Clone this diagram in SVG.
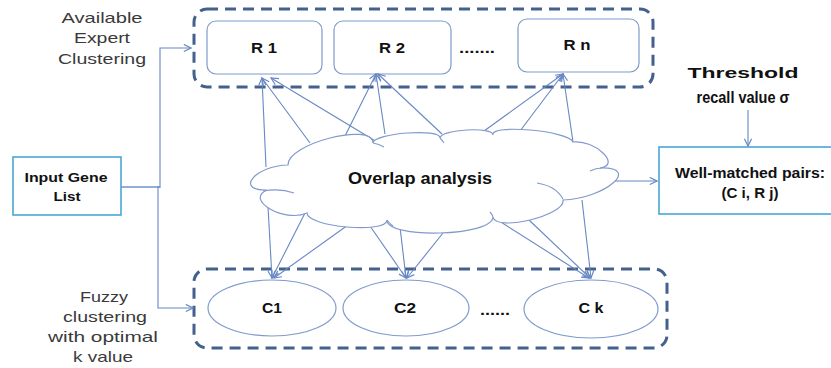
<svg xmlns="http://www.w3.org/2000/svg" width="831" height="368" viewBox="0 0 831 368">
<defs>
<style>
.lbl{font-family:"Liberation Sans",Arial,sans-serif;font-size:15px;fill:#3a3a3a;text-anchor:middle}
.b{font-family:"Liberation Sans",Arial,sans-serif;font-weight:bold;fill:#111;text-anchor:middle}
.grp{fill:none;stroke:#43618c;stroke-width:3;stroke-dasharray:11 7}
.rbox{fill:#fff;stroke:#7f9bcc;stroke-width:1.2}
.ell{fill:#fff;stroke:#7f9bcc;stroke-width:1.2}
.cbox{fill:#fff;stroke:#4aa6d8;stroke-width:1.6}
.cloud{fill:#fff;stroke:#8299cb;stroke-width:1.2}
.cl{fill:none;stroke:#8299cb;stroke-width:1.1}
.ar{fill:none;stroke:#6688c4;stroke-width:1.1;marker-end:url(#ah)}
.ln{fill:none;stroke:#6f94cc;stroke-width:1.3}
</style>
<marker id="ah" viewBox="0 0 10 10" refX="9" refY="5" markerWidth="9" markerHeight="9" markerUnits="userSpaceOnUse" orient="auto">
<path d="M1,1 L9,5 L1,9" fill="none" stroke="#6688c4" stroke-width="1.3"/>
</marker>
</defs>
<rect width="831" height="368" fill="#fff"/>

<g id="labels">
<text class="lbl" x="102" y="23" textLength="81" lengthAdjust="spacingAndGlyphs">Available</text>
<text class="lbl" x="102" y="43" textLength="56" lengthAdjust="spacingAndGlyphs">Expert</text>
<text class="lbl" x="102" y="64" textLength="88" lengthAdjust="spacingAndGlyphs">Clustering</text>
<text class="lbl" x="104" y="302" textLength="48" lengthAdjust="spacingAndGlyphs">Fuzzy</text>
<text class="lbl" x="105" y="322" textLength="84" lengthAdjust="spacingAndGlyphs">clustering</text>
<text class="lbl" x="103" y="342" textLength="110" lengthAdjust="spacingAndGlyphs">with optimal</text>
<text class="lbl" x="103" y="362" textLength="60" lengthAdjust="spacingAndGlyphs">k value</text>
<text class="b" x="743" y="78" font-size="15" textLength="111" lengthAdjust="spacingAndGlyphs">Threshold</text>
<text class="b" x="743" y="103" font-size="17" textLength="93" lengthAdjust="spacingAndGlyphs">recall value σ</text>
</g>

<g id="expert-group">
<rect class="grp" x="194" y="9" width="459" height="78" rx="13"/>
<text class="b" x="477" y="53" font-size="14" textLength="36" lengthAdjust="spacingAndGlyphs">.......</text>
</g>
<g id="R1"><rect class="rbox" x="207" y="21" width="115" height="53" rx="9"/><text class="b" x="264" y="53" font-size="14" textLength="26" lengthAdjust="spacingAndGlyphs">R 1</text></g>
<g id="R2"><rect class="rbox" x="334" y="21" width="117" height="53" rx="9"/><text class="b" x="392" y="53" font-size="14" textLength="26" lengthAdjust="spacingAndGlyphs">R 2</text></g>
<g id="Rn"><rect class="rbox" x="518" y="19" width="121" height="53" rx="9"/><text class="b" x="577" y="50" font-size="14" textLength="27" lengthAdjust="spacingAndGlyphs">R n</text></g>

<g id="fuzzy-group">
<rect class="grp" x="194" y="269" width="473" height="79" rx="13"/>
<text class="b" x="495" y="315" font-size="14" textLength="30" lengthAdjust="spacingAndGlyphs">......</text>
</g>
<g id="C1"><ellipse class="ell" cx="272" cy="308" rx="64" ry="28"/><text class="b" x="272" y="313" font-size="15" textLength="20" lengthAdjust="spacingAndGlyphs">C1</text></g>
<g id="C2"><ellipse class="ell" cx="406" cy="308" rx="63" ry="28"/><text class="b" x="405" y="313" font-size="15" textLength="22" lengthAdjust="spacingAndGlyphs">C2</text></g>
<g id="Ck"><ellipse class="ell" cx="591" cy="309" rx="67" ry="29"/><text class="b" x="591" y="313" font-size="15" textLength="25" lengthAdjust="spacingAndGlyphs">C k</text></g>

<g id="input">
<rect class="cbox" x="13" y="157" width="108" height="58"/>
<text class="b" x="66" y="182" font-size="13" textLength="83" lengthAdjust="spacingAndGlyphs">Input Gene</text>
<text class="b" x="67" y="201" font-size="13" textLength="27" lengthAdjust="spacingAndGlyphs">List</text>
</g>

<g id="wellmatched">
<rect class="cbox" x="659" y="147" width="180" height="67"/>
<text class="b" x="750" y="178" font-size="14" textLength="150" lengthAdjust="spacingAndGlyphs">Well-matched pairs:</text>
<text class="b" x="750" y="198" font-size="14" textLength="57" lengthAdjust="spacingAndGlyphs">(C i, R j)</text>
</g>

<g id="connectors">
<path class="ln" d="M121,187 H160"/>
<path class="ar" d="M160,188 V48 H191"/>
<path class="ar" d="M158,186 V308 H193"/>
<path class="ar" d="M266,167 L262,78"/>
<path class="ar" d="M310,143 L262,78"/>
<path class="ar" d="M382,145 L271,78"/>
<path class="ar" d="M343,140 L376,74"/>
<path class="ar" d="M385,134 L376,74"/>
<path class="ar" d="M442,134 L378,74"/>
<path class="ar" d="M484,131 L563,74"/>
<path class="ar" d="M520,131 L563,74"/>
<path class="ar" d="M573,142 L563,74"/>
<path class="ar" d="M268,207 L272,278"/>
<path class="ar" d="M305,213 L272,278"/>
<path class="ar" d="M348,225 L274,278"/>
<path class="ar" d="M370,226 L406,278"/>
<path class="ar" d="M400,227 L406,278"/>
<path class="ar" d="M443,233 L407,278"/>
<path class="ar" d="M493,217 L589,278"/>
<path class="ar" d="M529,220 L590,278"/>
<path class="ar" d="M582,200 L591,278"/>
<path class="ar" d="M613,181 L657,181"/>
<path class="ar" d="M748,110 L748,146"/>
</g>

<g id="overlap">
<path class="cloud" d="M288,165 C255.3,165.7 234.3,190.7 267,190 C244.3,200 284.3,223 307,213 C307,227 387,234 387,220 C387,239.3 493,236.3 493,217 C495.7,232.3 565.7,215.3 563,200 C605,198.7 642,166.7 600,168 C622,165.3 595,139.3 573,142 C569,130.7 489,123.7 493,135 C493.7,126.3 440.7,129.3 440,138 C440.7,128 373.7,133 373,143 C372.3,121.7 287.3,143.7 288,165 Z"/>
<path class="cl" d="M373,143 Q379,144 384,147"/>
<path class="cl" d="M263,191 Q280,188 294,193"/>
<path class="cl" d="M537,183 Q556,186 563,199"/>
<path class="cl" d="M590,171 Q596,168 602,168"/>
<path class="cl" d="M440,138 Q442,140 444,143"/>
<path class="cl" d="M387,220 Q389,223 393,226"/>
<path class="cl" d="M493,217 Q492,214 490,212"/>
<text class="b" x="420" y="184" font-size="16" textLength="144" lengthAdjust="spacingAndGlyphs">Overlap analysis</text>
</g>
</svg>
